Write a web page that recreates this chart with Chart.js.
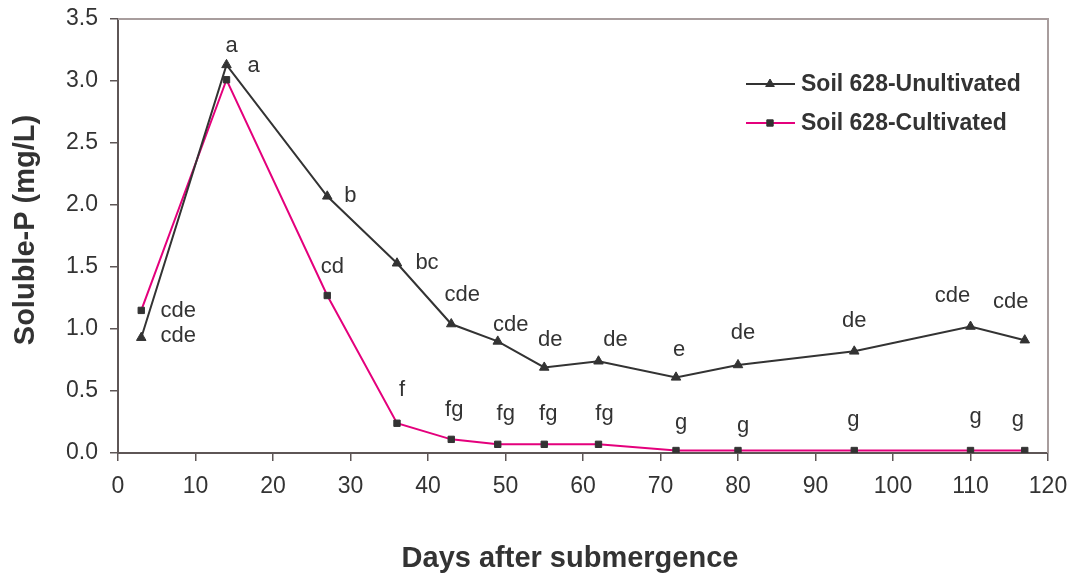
<!DOCTYPE html>
<html>
<head>
<meta charset="utf-8">
<script src="https://cdn.jsdelivr.net/npm/chart.js@4/dist/chart.umd.min.js"></script>
<style>
  html, body { margin: 0; padding: 0; background: #ffffff; }
  #wrap { width: 1074px; height: 576px; position: relative; }
</style>
</head>
<body>
<div id="wrap"><canvas id="chart" width="1074" height="576"></canvas></div>
<script>
// Sampling days after submergence
const days = [3, 14, 27, 36, 43, 49, 55, 62, 72, 80, 95, 110, 117];

// Soluble-P (mg/L)
const uncultivated = [0.93, 3.13, 2.07, 1.53, 1.04, 0.90, 0.69, 0.74, 0.61, 0.71, 0.82, 1.02, 0.91];
const cultivated   = [1.15, 3.01, 1.27, 0.24, 0.11, 0.07, 0.07, 0.07, 0.02, 0.02, 0.02, 0.02, 0.02];

// Significance letters for each sampling day
const uncultivatedLetters = ['cde', 'a', 'b', 'bc', 'cde', 'cde', 'de', 'de', 'e', 'de', 'de', 'cde', 'cde'];
const cultivatedLetters   = ['cde', 'a', 'cd', 'f', 'fg', 'fg', 'fg', 'fg', 'g', 'g', 'g', 'g', 'g'];

const seriesNames = ['Soil 628-Unultivated', 'Soil 628-Cultivated'];
const xTitle = 'Days after submergence';
const yTitle = 'Soluble-P (mg/L)';
const xTicks = [0, 10, 20, 30, 40, 50, 60, 70, 80, 90, 100, 110, 120];
const yTicks = [0, 0.5, 1.0, 1.5, 2.0, 2.5, 3.0, 3.5];

const DARK = '#333333';
const MAGENTA = '#e4007c';
const AXIS = '#5e5656';
const FRAME = '#a89d9d';
const FONT = "'Liberation Sans', Arial, sans-serif";

// Pixel nudges for the letter labels, relative to each point
const uncOffsets = [[37,-2],[5,-19],[23,0],[30,0],[11,-29],[13,-16],[6,-28],[17,-21],[3,-27],[5,-32],[0,-30],[-18,-31],[-14,-38]];
const culOffsets = [[37,1],[27,-14],[5,-29],[5,-33],[3,-29],[8,-30],[4,-30],[6,-30],[5,-28],[5,-25],[-1,-31],[5,-34],[-7,-31]];

const letterPlugin = {
  id: 'letters',
  afterDatasetsDraw(chart) {
    const ctx = chart.ctx;
    const xs = chart.scales.x, ys = chart.scales.y;
    ctx.save();
    ctx.font = '22px ' + FONT;
    ctx.fillStyle = DARK;
    ctx.textAlign = 'center';
    ctx.textBaseline = 'middle';
    const put = (vals, letters, offs) => {
      vals.forEach((v, i) => {
        const px = xs.getPixelForValue(days[i]) + offs[i][0];
        const py = ys.getPixelForValue(v) + offs[i][1];
        ctx.fillText(letters[i], px, py);
      });
    };
    put(uncultivated, uncultivatedLetters, uncOffsets);
    put(cultivated, cultivatedLetters, culOffsets);
    ctx.restore();
  }
};

// Top and right edges of the plot frame
const framePlugin = {
  id: 'frame',
  beforeDatasetsDraw(chart) {
    const { ctx, chartArea: a } = chart;
    ctx.save();
    ctx.strokeStyle = FRAME;
    ctx.lineWidth = 2;
    ctx.beginPath();
    ctx.moveTo(a.left, a.top);
    ctx.lineTo(a.right, a.top);
    ctx.lineTo(a.right, a.bottom);
    ctx.stroke();
    ctx.restore();
  }
};

// Axis titles
const titlePlugin = {
  id: 'axisTitles',
  afterDraw(chart) {
    const ctx = chart.ctx;
    ctx.save();
    ctx.fillStyle = DARK;
    ctx.font = 'bold 29px ' + FONT;
    ctx.textAlign = 'center';
    ctx.textBaseline = 'alphabetic';
    ctx.fillText(xTitle, 570, 567);
    ctx.translate(34, 230);
    ctx.rotate(-Math.PI / 2);
    ctx.fillText(yTitle, 0, 0);
    ctx.restore();
  }
};

const legendPlugin = {
  id: 'insetLegend',
  afterDraw(chart) {
    const ctx = chart.ctx;
    const rows = [
      { y: 84, line: DARK, style: 'triangle' },
      { y: 123, line: MAGENTA, style: 'rect' }
    ];
    ctx.save();
    rows.forEach((r, i) => {
      ctx.strokeStyle = r.line;
      ctx.lineWidth = 2;
      ctx.beginPath();
      ctx.moveTo(746, r.y);
      ctx.lineTo(795, r.y);
      ctx.stroke();
      ctx.fillStyle = DARK;
      ctx.strokeStyle = DARK;
      ctx.lineWidth = 1;
      Chart.helpers.drawPoint(ctx, { pointStyle: r.style, radius: r.style === 'triangle' ? 5 : 4.5, rotation: 0, borderWidth: 1 }, 770, r.y);
      ctx.fillStyle = DARK;
      ctx.font = 'bold 23px ' + FONT;
      ctx.textAlign = 'left';
      ctx.textBaseline = 'middle';
      ctx.fillText(seriesNames[i], 801, r.y + 1);
    });
    ctx.restore();
  }
};

new Chart(document.getElementById('chart'), {
  type: 'line',
  data: {
    datasets: [
      {
        label: seriesNames[0],
        data: days.map((d, i) => ({ x: d, y: uncultivated[i] })),
        borderColor: DARK,
        borderWidth: 2,
        pointStyle: 'triangle',
        pointRadius: 5.5,
        pointBackgroundColor: DARK,
        pointBorderColor: DARK,
        pointBorderWidth: 1,
        tension: 0
      },
      {
        label: seriesNames[1],
        data: days.map((d, i) => ({ x: d, y: cultivated[i] })),
        borderColor: MAGENTA,
        borderWidth: 2,
        pointStyle: 'rect',
        pointRadius: 4.5,
        pointBackgroundColor: DARK,
        pointBorderColor: DARK,
        pointBorderWidth: 1,
        tension: 0
      }
    ]
  },
  options: {
    responsive: false,
    animation: false,
    devicePixelRatio: 1,
    layout: { padding: { top: 19, right: 26, left: 0, bottom: 0 } },
    plugins: {
      legend: { display: false },
      tooltip: { enabled: false }
    },
    scales: {
      x: {
        type: 'linear',
        min: 0,
        max: 120,
        afterBuildTicks(scale) { scale.ticks = xTicks.map(v => ({ value: v })); },
        afterFit(scale) {
          scale.height = 576 - 453;
          scale.paddingLeft = 0;
          scale.paddingRight = 0;
        },
        border: { display: true, color: AXIS, width: 2 },
        grid: { drawOnChartArea: false, drawTicks: true, tickLength: 8, color: AXIS, lineWidth: 1.5 },
        ticks: { color: DARK, font: { family: FONT, size: 23 }, padding: 12, maxRotation: 0 },
        title: { display: false }
      },
      y: {
        type: 'linear',
        min: 0,
        max: 3.5,
        afterBuildTicks(scale) { scale.ticks = yTicks.map(v => ({ value: v })); },
        afterFit(scale) {
          scale.width = 118;
          scale.paddingTop = 0;
          scale.paddingBottom = 0;
        },
        border: { display: true, color: AXIS, width: 2 },
        grid: { drawOnChartArea: false, drawTicks: true, tickLength: 8, color: AXIS, lineWidth: 1.5 },
        ticks: { color: DARK, font: { family: FONT, size: 23 }, padding: 12, callback: v => v.toFixed(1) },
        title: { display: false }
      }
    }
  },
  plugins: [framePlugin, letterPlugin, titlePlugin, legendPlugin]
});
</script>
</body>
</html>
